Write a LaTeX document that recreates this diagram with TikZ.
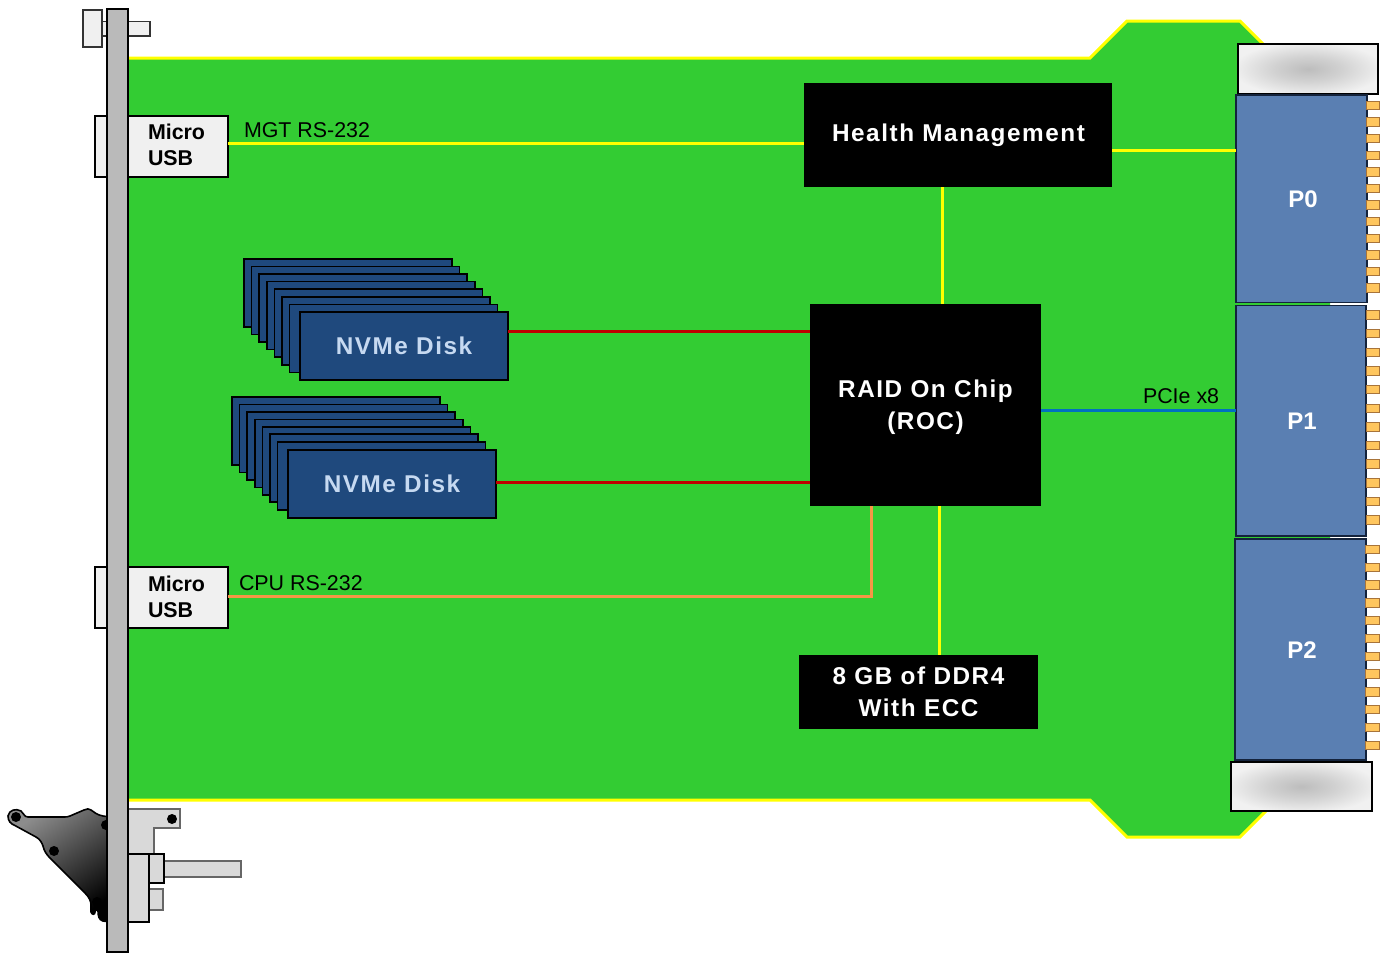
\documentclass[tikz,border=0pt]{standalone}
\usepackage{fontspec}
\setmainfont{Liberation Sans}
\newfontfamily\widefont[LetterSpace=6.4]{Liberation Sans}
\pgfdeclareradialshading{blurgrey}{\pgfpoint{0bp}{0bp}}{rgb(0bp)=(0.74,0.74,0.74); rgb(12bp)=(0.82,0.82,0.82); rgb(27bp)=(0.945,0.945,0.945); rgb(50bp)=(0.945,0.945,0.945)}
\definecolor{boardgreen}{HTML}{33CC33}
\definecolor{traceyellow}{HTML}{FFFF00}
\definecolor{tracered}{HTML}{C00000}
\definecolor{traceblue}{HTML}{0070C0}
\definecolor{traceorange}{HTML}{F79646}
\definecolor{diskblue}{HTML}{1F497D}
\definecolor{disktext}{HTML}{C6D9F1}
\definecolor{connblue}{HTML}{5A7FB2}
\definecolor{connedge}{HTML}{14233C}
\definecolor{pinfill}{HTML}{FFC65E}
\definecolor{pinedge}{HTML}{A8743A}
\definecolor{partgrey}{HTML}{D9D9D9}
\definecolor{pale}{HTML}{F0F0F0}
\tikzset{
  pxbox/.style={rectangle,inner sep=0pt,outer sep=0pt,align=center},
  chip/.style={pxbox,fill=black,text=white,font=\widefont\bfseries\fontsize{24.3}{32}\selectfont},
  disk/.style={pxbox,fill=diskblue,draw=black,line width=1.6pt,minimum width=208pt,minimum height=68pt},
  disktop/.style={disk,text=disktext,font=\widefont\bfseries\fontsize{24.3}{30}\selectfont},
  conn/.style={pxbox,fill=connblue,draw=connedge,line width=1.1pt},
  conntext/.style={text=white,font=\bfseries\fontsize{24}{28}\selectfont},
  usbbox/.style={pxbox,fill=pale,draw=black,line width=2pt,minimum width=133pt,minimum height=61pt},
  usbtext/.style={inner sep=0pt,outer sep=0pt,align=left,anchor=west,font=\bfseries\fontsize{21.4}{25.5}\selectfont},
  siglabel/.style={inner sep=0pt,outer sep=0pt,font=\fontsize{21.4}{26}\selectfont},
  shroud/.style={pxbox,shade,shading=blurgrey,draw=black,line width=1.1pt,minimum width=140pt,minimum height=50pt},
  pin/.style={pxbox,fill=pinfill,draw=pinedge,line width=1pt,minimum width=13.5pt,minimum height=8.5pt},
  yellowtrace/.style={traceyellow,line width=2.6pt},
  redtrace/.style={tracered,line width=2.6pt},
  bluetrace/.style={traceblue,line width=2.6pt},
  orangetrace/.style={traceorange,line width=2.6pt},
  boardedge/.style={traceyellow,line width=3pt},
  metal/.style={fill=partgrey,draw=black!60,line width=1.2pt},
  metaldark/.style={fill=partgrey,draw=black,line width=1.2pt},
  paletab/.style={fill=pale,draw=black!80,line width=1.2pt},
  hole/.style={circle,fill=black,inner sep=0pt,minimum size=10pt}
}
\begin{document}
\begin{tikzpicture}[x=1pt,y=-1pt]
\useasboundingbox (0,0) rectangle (1385,953);

% board
\path[fill=boardgreen] (118,58) -- (1090,58) -- (1127,21) -- (1240,21) -- (1285,66) -- (1330,66)
  -- (1330,792) -- (1285,792) -- (1240,837) -- (1127,837) -- (1090,800) -- (118,800) -- cycle;
\draw[boardedge] (118,58) -- (1090,58) -- (1127,21) -- (1240,21) -- (1285,66);
\draw[boardedge] (118,800) -- (1090,800) -- (1127,837) -- (1240,837) -- (1285,792);

% top of face plate parts
\draw[paletab] (98,21.5) rectangle (150,36);
\draw[paletab] (83,10) rectangle (102,47);

% ejector handle
\draw[black,line width=1.6pt,top color=black!45,bottom color=black,shading angle=35]
  (110,817) -- (103,816) .. controls (97,815) and (94,812) .. (91,810) .. controls (89,808) and (87,809) .. (84,810)
  -- (70,816) .. controls (68,817) and (66,817) .. (64,817) -- (28,817) .. controls (24,817) and (24,813) .. (21,811)
  .. controls (16,808) and (9,810) .. (8,816) .. controls (8,821) and (11,824) .. (14,825) -- (36,837)
  .. controls (40,839) and (42,843) .. (43,846) .. controls (44,851) and (47,855) .. (50,858)
  -- (85,893) .. controls (89,897) and (91,901) .. (91,905) -- (91,912) .. controls (92,915) and (95,915) .. (95,912)
  .. controls (95,909) and (97,909) .. (98,911) .. controls (98,916) and (99,920) .. (103,921) -- (110,922) -- cycle;
\node[hole] (h1) at (16,817) {};
\node[hole] (h2) at (54,851) {};
\node[hole] (h3) at (97,902) {};
\node[hole] (h4) at (106,825) {};

% lower bracket parts
\draw[metal] (118,809) -- (180,809) -- (180,828) -- (154,828) -- (154,860) -- (118,860) -- cycle;
\node[hole] (h5) at (172,819) {};
\draw[metal] (164,861) rectangle (241,877);
\draw[metal] (149,889) rectangle (163,910);
\draw[metaldark] (118,854) rectangle (149,922);
\draw[metaldark] (149,854) rectangle (164,883);

% USB connectors
\node[usbbox] (usb1) at (161.5,146.5) {};
\node[usbbox] (usb2) at (161.5,597.5) {};
\node[usbtext] (usb1t) at (148,145) {Micro\\USB};
\node[usbtext] (usb2t) at (148,597) {Micro\\USB};

% front panel
\draw[fill=black!27,draw=black,line width=2pt] (107,8.5) rectangle (127.5,952);

% chips
\node[chip,minimum width=308pt,minimum height=104pt] (hm) at (958,135) {\hspace*{1pt}\raisebox{-1pt}{Health Management}};
\node[chip,minimum width=231pt,minimum height=202pt] (roc) at (925.5,405) {\rule{0pt}{26.4pt}RAID On Chip\\\strut (ROC)};
\node[chip,minimum width=239pt,minimum height=74pt] (ddr) at (918.5,692) {8 GB of DDR4\\With ECC};

% disk stacks
\foreach \i in {0,...,6} {
  \node[disk] (da\i) at ({348+7.6*\i},{293+7.55*\i}) {};
  \node[disk] (db\i) at ({336+7.6*\i},{431+7.45*\i}) {};
}
\node[disktop] (diska) at (404,346) {NVMe Disk};
\node[disktop] (diskb) at (392,484) {NVMe Disk};

% shrouds and backplane connectors
\node[shroud] (sh1) at (1308,69) {};
\node[shroud,minimum width=141pt,minimum height=49pt] (sh2) at (1301.5,786.5) {};
\node[conn,minimum width=131pt,minimum height=207.5pt] (p0) at (1301.5,198.75) {};
\node[conn,minimum width=130pt,minimum height=230.5pt] (p1) at (1301,420.75) {};
\node[conn,minimum width=131pt,minimum height=221pt] (p2) at (1300.5,649.5) {};
\node[conntext] (p0t) at (1303,199) {P0};
\node[conntext] (p1t) at (1302,421) {P1};
\node[conntext] (p2t) at (1302,650) {P2};
\foreach \i in {0,...,11} {
  \node[pin] (pa\i) at (1373,{105.5+16.6*\i}) {};
  \node[pin] (pb\i) at (1373,{315+18.65*\i}) {};
  \node[pin] (pc\i) at (1372.5,{549.5+17.8*\i}) {};
}

% traces
\draw[yellowtrace] ([yshift=3pt]usb1.east) -- ([yshift=3pt]usb1.east -| hm.west);
\draw[yellowtrace] ([yshift=-15.5pt]hm.east) -- ([yshift=-15.5pt]hm.east -| p0.west);
\draw[yellowtrace] (942.5,0 |- hm.south) -- (942.5,0 |- roc.north);
\draw[yellowtrace] (939.5,0 |- roc.south) -- (939.5,0 |- ddr.north);
\draw[redtrace] (diska.east |- 0,331.5) -- (roc.west |- 0,331.5);
\draw[redtrace] (diskb.east |- 0,482.5) -- (roc.west |- 0,482.5);
\draw[bluetrace] (roc.east |- 0,410.5) -- (p1.west |- 0,410.5);
\draw[orangetrace] (871.5,0 |- roc.south) -- (871.5,596.5) -- (usb2.east |- 0,596.5);

% labels
\node[siglabel,anchor=west] (lmgt) at (244,130) {MGT RS-232};
\node[siglabel,anchor=west] (lcpu) at (239,583) {CPU RS-232};
\node[siglabel,anchor=west] (lpcie) at (1143,396) {PCIe x8};
\end{tikzpicture}
\end{document}
